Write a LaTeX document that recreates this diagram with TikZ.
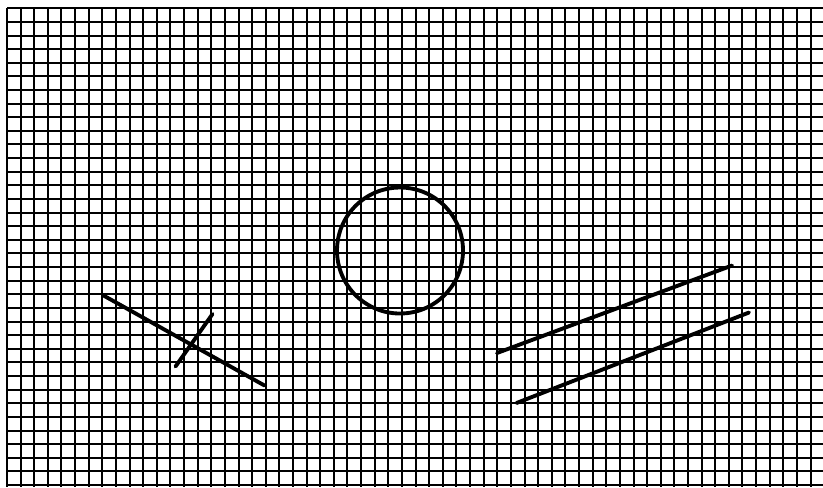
\documentclass[tikz,border=0pt]{standalone}
\usepackage{tikz}
\usetikzlibrary{calc}

\begin{document}
\begin{tikzpicture}[
    x=0.75pt, y=-0.75pt,
    gridline/.style={draw=black, line width=1.3pt},
    sketch/.style={draw=black, line width=2.9pt, line cap=round},
  ]
  \useasboundingbox (0,0) rectangle (823,487);
  \fill[white] (0,0) rectangle (823,487);

  % Raster
  \begin{scope}
    \clip (0,0) rectangle (823,487);
    \foreach \i in {0,...,59}{
      \pgfmathsetmacro{\gx}{round(7+13.62*\i)}
      \draw[gridline] (\gx,8) -- (\gx,487);
    }
    \foreach \j in {0,...,35}{
      \pgfmathsetmacro{\gy}{round(8.3+13.62*\j)}
      \draw[gridline] (7,\gy) -- (823,\gy);
    }
  \end{scope}

  % Kreuz links
  \coordinate (crossA) at (103.5,295.5);
  \coordinate (crossB) at (264.5,385.5);
  \coordinate (crossC) at (212.5,314);
  \coordinate (crossD) at (175.5,366.5);
  \draw[sketch] (crossA) -- (crossB);
  \draw[sketch] (crossC) -- (crossD);

  % Kreis in der Mitte
  \coordinate (ringM) at (400,250.5);
  \draw[sketch] (ringM) circle[radius=63];

  % Parallelen rechts
  \coordinate (parA) at (497,353);
  \coordinate (parB) at (732,265.5);
  \coordinate (parC) at (516.5,403);
  \coordinate (parD) at (749,312.5);
  \draw[sketch] (parA) -- (parB);
  \draw[sketch] (parC) -- (parD);
\end{tikzpicture}
\end{document}
